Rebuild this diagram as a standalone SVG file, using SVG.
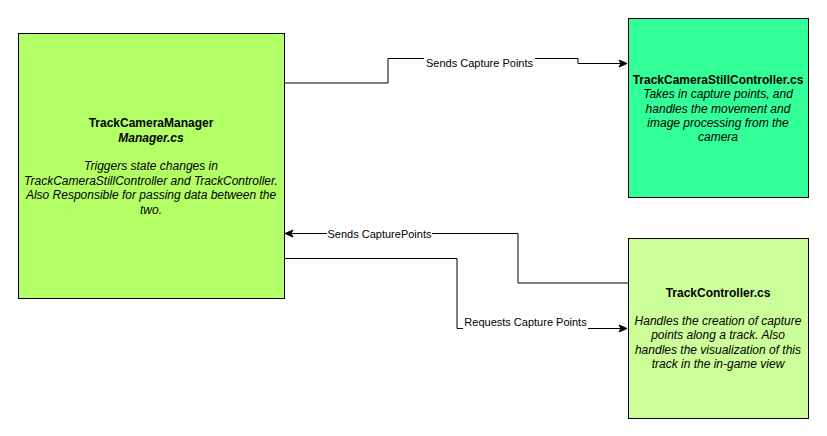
<svg xmlns="http://www.w3.org/2000/svg" width="827" height="436" viewBox="0 0 827 436">
<style>
.box{stroke:#000;stroke-width:1}
.t{font-family:"Liberation Sans",Arial,sans-serif;font-size:12px;fill:#000;text-anchor:middle}
.b{font-weight:bold}
.i{font-style:italic}
.lbl{font-family:"Liberation Sans",Arial,sans-serif;font-size:11px;fill:#000;text-anchor:middle}
.c{fill:none;stroke:#000;stroke-width:1}
</style>
<defs>
<marker id="arr" markerWidth="10" markerHeight="10" refX="9" refY="5" orient="auto" markerUnits="userSpaceOnUse">
<path d="M1,1.5 L9,5 L1,8.5 L3,5 Z" fill="#000" stroke="#000" stroke-width="1"/>
</marker>
</defs>
<rect width="827" height="436" fill="#fff"/>
<g id="connectors">
<path class="c" d="M284,83 H388 V58.5 H578 V63.5 H627" marker-end="url(#arr)"/>
<rect x="424" y="55" width="111" height="14" fill="#fff"/>
<text class="lbl" x="479.5" y="66.5">Sends Capture Points</text>
<path class="c" d="M628,283 H518 V233.5 H285" marker-end="url(#arr)"/>
<rect x="327" y="227" width="105" height="14" fill="#fff"/>
<text class="lbl" x="379.5" y="238">Sends CapturePoints</text>
<path class="c" d="M284,258.5 H457 V328.5 H627" marker-end="url(#arr)"/>
<rect x="463" y="315" width="125" height="14" fill="#fff"/>
<text class="lbl" x="525.5" y="325.5">Requests Capture Points</text>
</g>
<g id="manager">
<rect class="box" x="18.5" y="33.5" width="266" height="265" fill="#b3ff66"/>
<text class="t b" x="151" y="127">TrackCameraManager</text>
<text class="t b i" x="151" y="142">Manager.cs</text>
<text class="t i" x="151" y="170">Triggers state changes in</text>
<text class="t i" x="151" y="185">TrackCameraStillController and TrackController.</text>
<text class="t i" x="151" y="199">Also Responsible for passing data between the</text>
<text class="t i" x="151" y="214">two.</text>
</g>
<g id="still">
<rect class="box" x="628.5" y="18.5" width="180" height="179" fill="#33ff99"/>
<text class="t b" x="718" y="84">TrackCameraStillController.cs</text>
<text class="t i" x="718" y="98">Takes in capture points, and</text>
<text class="t i" x="718" y="112.5">handles the movement and</text>
<text class="t i" x="718" y="127">image processing from the</text>
<text class="t i" x="718" y="141">camera</text>
</g>
<g id="track">
<rect class="box" x="628.5" y="238.5" width="180" height="180" fill="#ccff99"/>
<text class="t b" x="718" y="296.5">TrackController.cs</text>
<text class="t i" x="718" y="325">Handles the creation of capture</text>
<text class="t i" x="718" y="339">points along a track. Also</text>
<text class="t i" x="718" y="353.5">handles the visualization of this</text>
<text class="t i" x="718" y="368">track in the in-game view</text>
</g>
</svg>
